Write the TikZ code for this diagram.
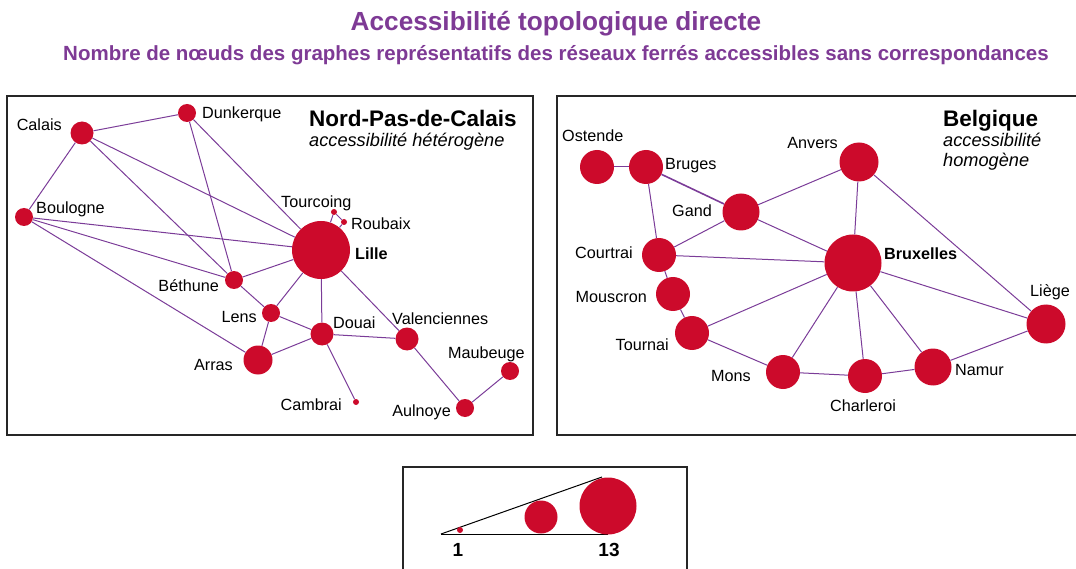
\documentclass[tikz,border=0pt]{standalone}
\usepackage{fontspec}
\setmainfont{Liberation Sans}
\definecolor{stnred}{HTML}{CC0A2B}
\definecolor{linkpurple}{HTML}{7B3C98}
\definecolor{titlepurple}{HTML}{7E3A95}
\begin{document}
\begin{tikzpicture}[x=1pt,y=-1pt,
  stn/.style={circle,fill=stnred,inner sep=0pt,minimum size=#1},
  lbl/.style={font=\fontsize{16.2}{19}\selectfont,inner sep=0pt},
  link/.style={draw=linkpurple,line width=1pt},
  frame/.style={draw=black!85,line width=1.2pt}]
\useasboundingbox (0,0) rectangle (1076,569);
\node[font=\fontsize{26.2}{31}\selectfont\bfseries,text=titlepurple,anchor=base,inner sep=0pt] (title) at (556,31) {Accessibilité topologique directe};
\node[font=\fontsize{20.5}{24}\selectfont\bfseries,text=titlepurple,anchor=base,inner sep=0pt] (subtitle) at (556,61) {Nombre de nœuds des graphes représentatifs des réseaux ferrés accessibles sans correspondances};
\draw[frame] (7,96) rectangle (533,435);
\draw[frame] (557,96) rectangle (1082,435);
\draw[frame] (403,467) rectangle (687,575);
\node[stn=23] (calais) at (82,133) {};
\node[stn=18] (dunkerque) at (187,113) {};
\node[stn=18] (boulogne) at (24,217) {};
\node[stn=58] (lille) at (321,250) {};
\node[stn=6] (tourcoing) at (334,212) {};
\node[stn=6] (roubaix) at (344,222) {};
\node[stn=18] (bethune) at (234,280) {};
\node[stn=18] (lens) at (271,313) {};
\node[stn=23] (douai) at (322,334) {};
\node[stn=29] (arras) at (258,360) {};
\node[stn=23] (valenciennes) at (407,339) {};
\node[stn=6] (cambrai) at (356,402) {};
\node[stn=18] (aulnoye) at (465,408) {};
\node[stn=18] (maubeuge) at (510,371) {};
\node[lbl,anchor=base east] (calaisname) at (62,131) {Calais};
\node[lbl,anchor=base west] (dunkerquename) at (202,119) {Dunkerque};
\node[lbl,anchor=base west] (boulognename) at (36,214) {Boulogne};
\node[lbl,anchor=base west] (tourcoingname) at (281,208) {Tourcoing};
\node[lbl,anchor=base west] (roubaixname) at (351,230) {Roubaix};
\node[lbl,anchor=base west,font=\fontsize{16.2}{19}\selectfont\bfseries] (lillename) at (355,260) {Lille};
\node[lbl,anchor=base east] (bethunename) at (219,291) {Béthune};
\node[lbl,anchor=base east] (lensname) at (257,322) {Lens};
\node[lbl,anchor=base west] (douainame) at (333,328) {Douai};
\node[lbl,anchor=base west] (valenciennesname) at (392,324) {Valenciennes};
\node[lbl,anchor=base east] (arrasname) at (233,370) {Arras};
\node[lbl,anchor=base west] (maubeugename) at (448,358) {Maubeuge};
\node[lbl,anchor=base east] (cambrainame) at (342,410) {Cambrai};
\node[lbl,anchor=base east] (aulnoyename) at (451,416) {Aulnoye};
\node[font=\fontsize{22.5}{26}\selectfont\bfseries,anchor=base west,inner sep=0pt] (npdc) at (309,127) {Nord-Pas-de-Calais};
\node[font=\fontsize{18.2}{20}\selectfont\itshape,anchor=base west,inner sep=0pt] (npdcsub) at (309,147) {accessibilité hétérogène};
\draw[link] (calais) -- (dunkerque);
\draw[link] (calais) -- (boulogne);
\draw[link] (calais) -- (lille);
\draw[link] (calais) -- (bethune);
\draw[link] (dunkerque) -- (bethune);
\draw[link] (dunkerque) -- (lille);
\draw[link] (boulogne) -- (lille);
\draw[link] (boulogne) -- (bethune);
\draw[link] (boulogne) -- (arras);
\draw[link] (bethune) -- (lille);
\draw[link] (bethune) -- (lens);
\draw[link] (lens) -- (lille);
\draw[link] (lens) -- (arras);
\draw[link] (lens) -- (douai);
\draw[link] (lille) -- (douai);
\draw[link] (lille) -- (valenciennes);
\draw[link] (lille) -- (tourcoing);
\draw[link] (tourcoing) -- (roubaix);
\draw[link] (roubaix) -- (lille);
\draw[link] (arras) -- (douai);
\draw[link] (douai) -- (valenciennes);
\draw[link] (douai) -- (cambrai);
\draw[link] (valenciennes) -- (aulnoye);
\draw[link] (aulnoye) -- (maubeuge);
\node[stn=34] (ostende) at (597,167) {};
\node[stn=34] (bruges) at (646,167) {};
\node[stn=37] (gand) at (741,212) {};
\node[stn=39] (anvers) at (859,162) {};
\node[stn=34] (courtrai) at (659,255) {};
\node[stn=57] (bruxelles) at (853,263) {};
\node[stn=34] (mouscron) at (673,294) {};
\node[stn=34] (tournai) at (692,333) {};
\node[stn=39] (liege) at (1046,324) {};
\node[stn=34] (mons) at (783,372) {};
\node[stn=34] (charleroi) at (865,376) {};
\node[stn=37] (namur) at (933,367) {};
\node[lbl,anchor=base west] (ostendename) at (562,142) {Ostende};
\node[lbl,anchor=base west] (brugesname) at (665,170) {Bruges};
\node[lbl,anchor=base east] (gandname) at (712,217) {Gand};
\node[lbl,anchor=base east] (anversname) at (838,149) {Anvers};
\node[lbl,anchor=base east] (courtrainame) at (633,259) {Courtrai};
\node[lbl,anchor=base west,font=\fontsize{16.2}{19}\selectfont\bfseries] (bruxellesname) at (884,260) {Bruxelles};
\node[lbl,anchor=base east] (mouscronname) at (647,302) {Mouscron};
\node[lbl,anchor=base east] (tournainame) at (669,350) {Tournai};
\node[lbl,anchor=base west] (liegename) at (1030,297) {Liège};
\node[lbl,anchor=base east] (monsname) at (751,381) {Mons};
\node[lbl,anchor=base] (charleroiname) at (863,411) {Charleroi};
\node[lbl,anchor=base west] (namurname) at (955,375) {Namur};
\node[font=\fontsize{22.5}{26}\selectfont\bfseries,anchor=base west,inner sep=0pt] (belgique) at (943,127) {Belgique};
\node[font=\fontsize{18.2}{20}\selectfont\itshape,anchor=base west,inner sep=0pt,align=left] (belgiquesub) at (943,167) {accessibilité\\homogène};
\draw[link] (ostende) -- (bruges);
\draw[link,line width=1.6pt] (bruges) -- (gand);
\draw[link] (bruges) -- (courtrai);
\draw[link] (gand) -- (anvers);
\draw[link] (gand) -- (courtrai);
\draw[link] (gand) -- (bruxelles);
\draw[link] (anvers) -- (bruxelles);
\draw[link] (anvers) -- (liege);
\draw[link] (courtrai) -- (bruxelles);
\draw[link] (courtrai) -- (mouscron);
\draw[link] (mouscron) -- (tournai);
\draw[link] (tournai) -- (bruxelles);
\draw[link] (tournai) -- (mons);
\draw[link] (mons) -- (bruxelles);
\draw[link] (mons) -- (charleroi);
\draw[link] (charleroi) -- (bruxelles);
\draw[link] (charleroi) -- (namur);
\draw[link] (namur) -- (bruxelles);
\draw[link] (namur) -- (liege);
\draw[link] (bruxelles) -- (liege);
\coordinate (lgorigin) at (441,534);
\coordinate (lgbase) at (608,534);
\coordinate (lgtop) at (602,477);
\draw[line width=1pt] (lgorigin) -- (lgbase);
\draw[line width=1pt] (lgorigin) -- (lgtop);
\node[stn=6] (lgmin) at (460,530) {};
\node[stn=33] (lgmid) at (541,517) {};
\node[stn=57] (lgmax) at (608,506) {};
\node[font=\fontsize{19}{23}\selectfont\bfseries,anchor=base,inner sep=0pt] (lgone) at (458,556) {1};
\node[font=\fontsize{19}{23}\selectfont\bfseries,anchor=base,inner sep=0pt] (lgthirteen) at (609,556) {13};
\end{tikzpicture}
\end{document}
